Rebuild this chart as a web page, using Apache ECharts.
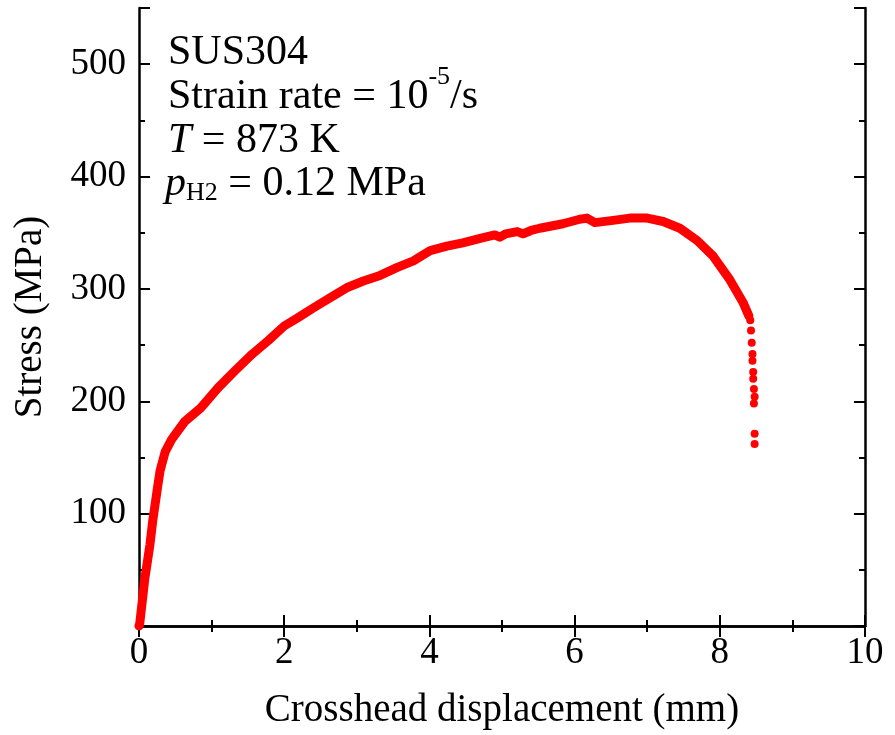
<!DOCTYPE html>
<html>
<head>
<meta charset="utf-8">
<script src="https://cdn.jsdelivr.net/npm/echarts@6/dist/echarts.min.js"></script>
<style>
  html, body { margin: 0; padding: 0; background: #fff; }
  #chart { width: 895px; height: 735px; }
</style>
</head>
<body>
<div id="chart"></div>
<script>
// crosshead displacement (mm) / stress (MPa)
const dispMain = [0.00, 0.01, 0.08, 0.15, 0.19, 0.25, 0.29, 0.36, 0.45, 0.63, 0.85, 1.09, 1.32, 1.56, 1.78, 2.00,
  2.18, 2.40, 2.63, 2.86, 3.09, 3.32, 3.55, 3.78, 4.01, 4.24, 4.46, 4.70, 4.90, 4.97, 5.05, 5.21, 5.29, 5.40,
  5.52, 5.84, 6.07, 6.17, 6.28, 6.53, 6.76, 7.00, 7.22, 7.45, 7.69, 7.91, 8.14, 8.32, 8.40]
const stressMain = [0, 2, 42, 72, 94, 121, 138, 155, 166, 182, 194, 212, 227, 242, 254, 267,
  274, 283, 292, 301, 307, 312, 319, 325, 334, 338, 341, 345, 348, 346, 349, 351, 349, 352,
  354, 358, 362, 363, 359, 361, 363, 363, 360, 354, 343, 329, 308, 288, 276]
// scattered points after fracture starts
const dispTail = [8.42, 8.43, 8.44, 8.45, 8.45, 8.46, 8.46, 8.47, 8.48, 8.47, 8.48, 8.48]
const stressTail = [272, 263, 252, 242, 236, 226, 220, 211, 204, 198, 171, 162]

const xTicks = [0, 2, 4, 6, 8, 10]
const yTicks = [100, 200, 300, 400, 500]

const FONT = '"Liberation Serif", "Times New Roman", serif'
const myChart = echarts.init(document.getElementById('chart'))

// text widths, to place sub/superscripts
const ctx = document.createElement('canvas').getContext('2d')
function textW(str, size, italic){
  ctx.font = (italic ? 'italic ' : '') + size + 'px ' + FONT
  return ctx.measureText(str).width
}

const FS = 42      // annotation
const LBL = 37     // tick labels
const TTL = 39     // axis titles
const SMALL = 26
const tx = 168
const line2 = 'Strain rate = 10'
const supX = tx + textW(line2, FS)
const supW = textW('-5', SMALL)
const pW = textW('p', FS, true)
const subW = textW('H2', SMALL)
const tW = textW('T', FS, true)

function txt(x, y, s, size, italic){
  return {
    type: 'text', x: x, y: y, z: 100,
    style: {text: s, fill: '#000', fontSize: size, fontFamily: FONT,
      fontStyle: italic ? 'italic' : 'normal', verticalAlign: 'middle', align: 'left'}
  }
}

const axisLine = {show: true, lineStyle: {color: '#000', width: 2.5}}
const majorTick = {inside: true, length: 11, lineStyle: {color: '#000', width: 2}}
const minorTick = {inside: true, length: 6, lineStyle: {color: '#000', width: 2}}

const option = {
  animation: false,
  grid: {left: 139, right: 30, top: 8, bottom: 105, containLabel: false},
  xAxis: [
    {
      type: 'value', min: 0, max: 10, interval: 2, position: 'bottom',
      name: 'Crosshead displacement (mm)', nameLocation: 'middle', nameGap: 65,
      nameTextStyle: {fontFamily: FONT, fontSize: TTL, color: '#000'},
      axisLine: axisLine,
      axisTick: majorTick,
      minorTick: {show: true, splitNumber: 2, length: 6, lineStyle: {color: '#000', width: 2}},
      axisLabel: {fontFamily: FONT, fontSize: LBL, color: '#000', margin: 9,
        formatter: v => xTicks.includes(v) ? String(v) : ''},
      splitLine: {show: false}
    },
    {
      type: 'value', min: 0, max: 10, interval: 2, position: 'top',
      axisLine: axisLine,
      axisTick: majorTick,
      minorTick: {show: true, splitNumber: 2, length: 6, lineStyle: {color: '#000', width: 2}},
      axisLabel: {show: false}, splitLine: {show: false}
    }
  ],
  yAxis: [
    {
      type: 'value', min: 0, max: 550, interval: 100, position: 'left',
      name: 'Stress (MPa)', nameLocation: 'middle', nameGap: 89,
      nameTextStyle: {fontFamily: FONT, fontSize: TTL, color: '#000'},
      axisLine: axisLine,
      axisTick: majorTick,
      axisLabel: {fontFamily: FONT, fontSize: LBL, color: '#000', margin: 13,
        formatter: v => yTicks.includes(v) ? String(v) : ''},
      splitLine: {show: false}
    },
    {
      type: 'value', min: 0, max: 550, interval: 50, position: 'left',
      axisLine: {show: false}, axisTick: minorTick,
      axisLabel: {show: false}, splitLine: {show: false}
    },
    {
      type: 'value', min: 0, max: 550, interval: 100, position: 'right',
      axisLine: axisLine, axisTick: majorTick,
      axisLabel: {show: false}, splitLine: {show: false}
    },
    {
      type: 'value', min: 0, max: 550, interval: 50, position: 'right',
      axisLine: {show: false}, axisTick: minorTick,
      axisLabel: {show: false}, splitLine: {show: false}
    }
  ],
  series: [
    {
      type: 'line',
      data: dispMain.map((x, i) => [x, stressMain[i]]),
      showSymbol: false,
      lineStyle: {color: '#ff0000', width: 9, cap: 'round', join: 'round'},
      z: 3
    },
    {
      type: 'scatter',
      data: dispTail.map((x, i) => [x, stressTail[i]]),
      symbolSize: 8,
      itemStyle: {color: '#ff0000', opacity: 1},
      z: 3
    }
  ],
  graphic: [
    txt(tx, 53, 'SUS304', FS),
    txt(tx, 97, line2, FS),
    txt(supX, 77, '-5', SMALL),
    txt(supX + supW, 97, '/s', FS),
    txt(tx, 141, 'T', FS, true),
    txt(tx + tW, 141, ' = 873 K', FS),
    txt(tx - 3, 184, 'p', FS, true),
    txt(tx - 3 + pW, 193, 'H2', SMALL),
    txt(tx - 3 + pW + subW, 184, ' = 0.12 MPa', FS)
  ]
}

myChart.setOption(option)
</script>
</body>
</html>
